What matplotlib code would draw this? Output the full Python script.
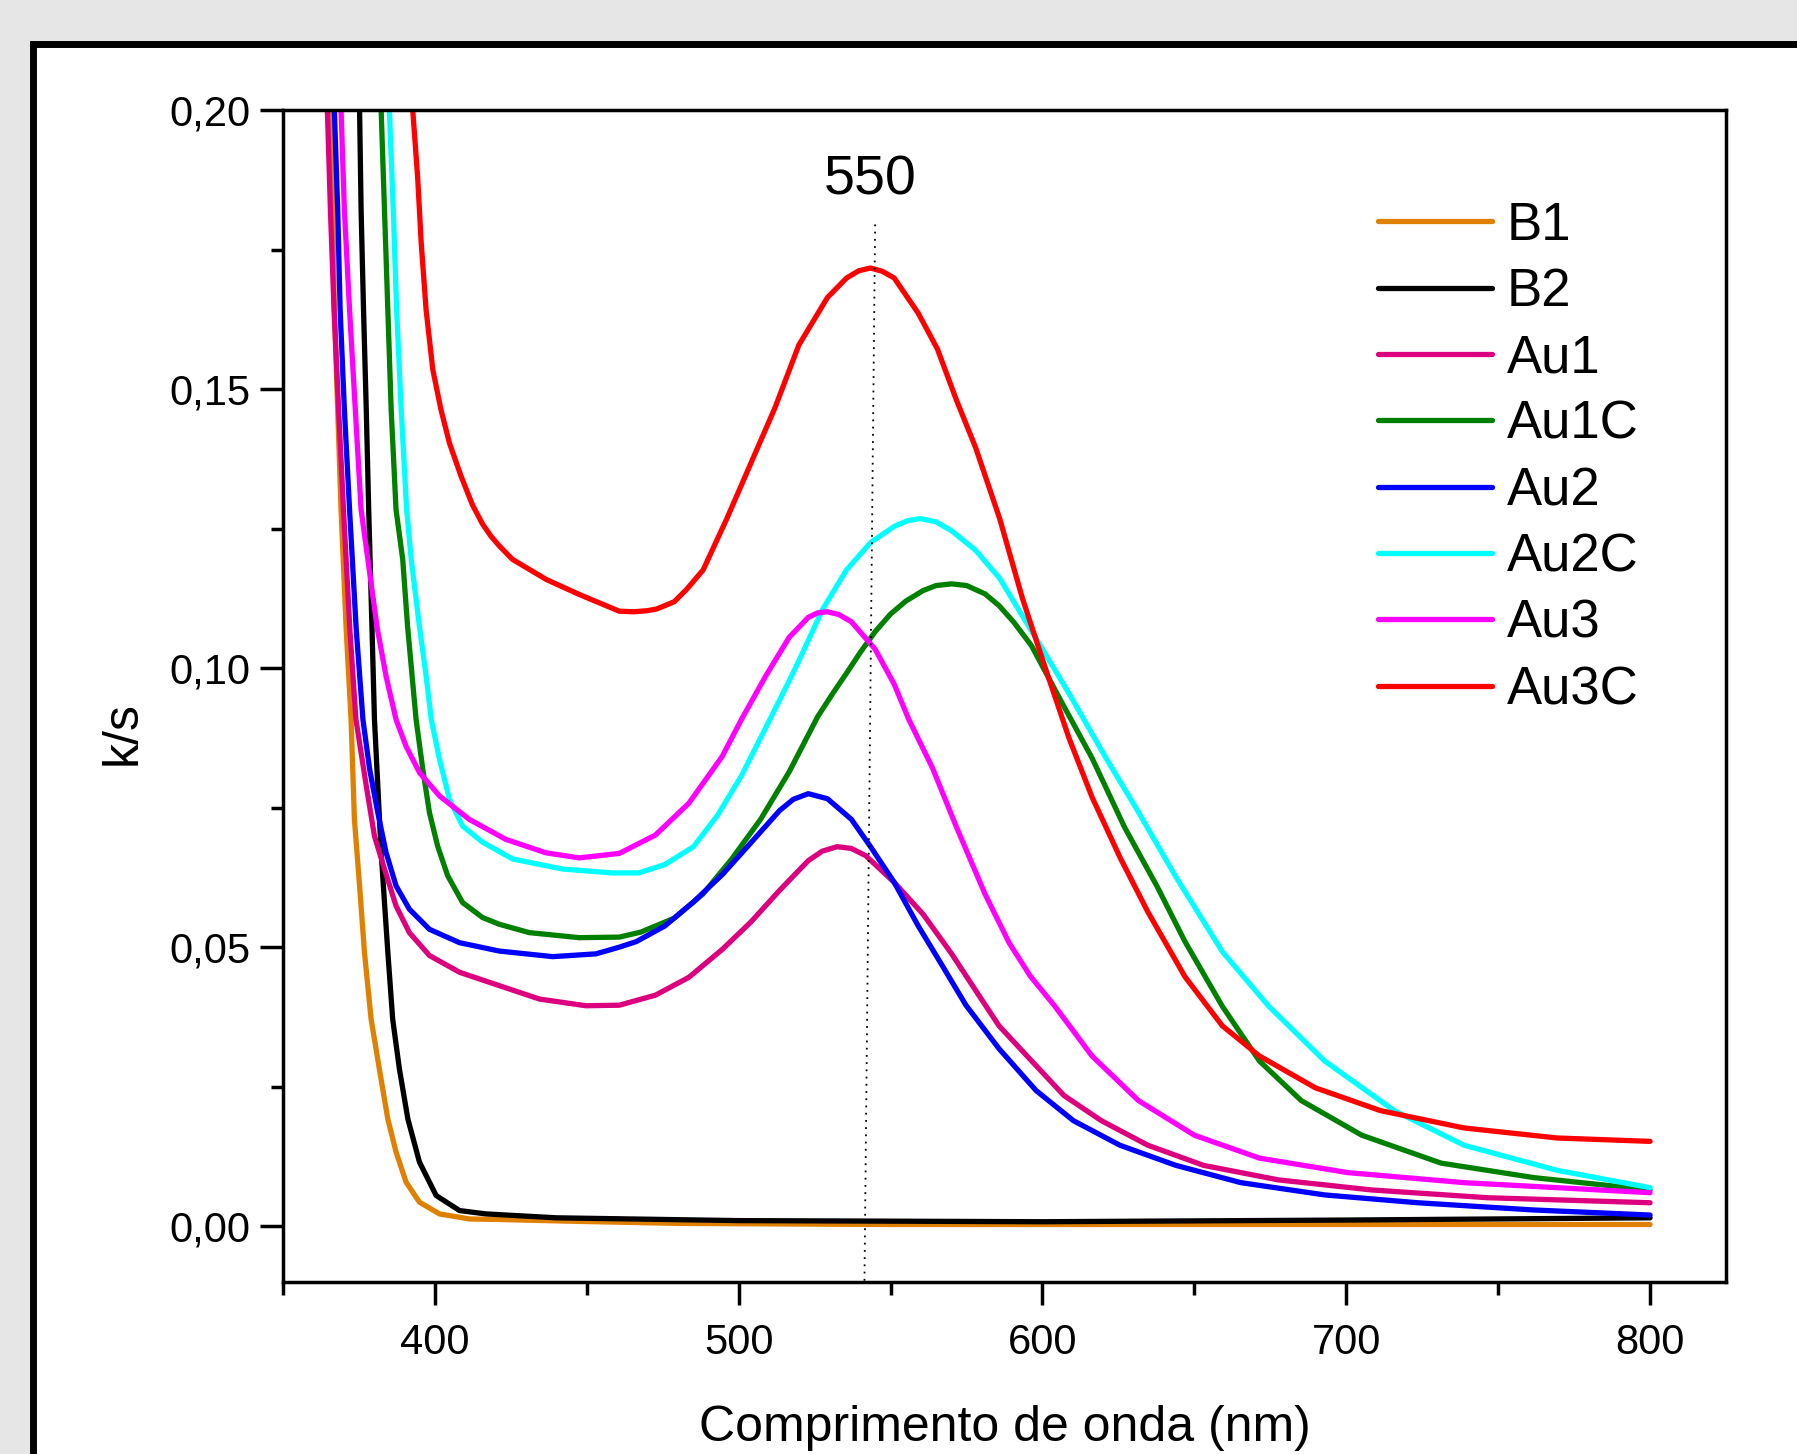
import matplotlib
matplotlib.use("Agg")
import matplotlib.pyplot as plt
from matplotlib.patches import Rectangle
from matplotlib.ticker import MultipleLocator, FuncFormatter

plt.rcParams["font.family"] = ["Liberation Sans", "DejaVu Sans"]

##### Spectra (wavelength in nm, k/s)
b1_wl = [365.9, 366.4, 366.9, 368.0, 369.1, 370.8, 372.4, 373.5, 375.2, 376.8, 379.0, 381.7,
         384.5, 387.2, 390.5, 394.9, 401.5, 411.3, 421.2, 444, 480, 550, 650, 800]
b1_ks = [0.200, 0.1821, 0.1642, 0.1463, 0.1284, 0.1069, 0.0908, 0.0729, 0.0610, 0.0491, 0.0371, 0.0282,
         0.0192, 0.0133, 0.0079, 0.0043, 0.0022, 0.0013, 0.0012, 0.0009, 0.0005, 0.0003, 0.0003, 0.0003]

b2_wl = [375.2, 375.7, 376.5, 377.4, 378.2, 379.3, 380.1, 381.2, 382.3, 383.4, 384.5, 386.1,
         388.3, 391.1, 394.9, 400.4, 408.1, 416.8, 440, 500, 600, 700, 750, 800]
b2_ks = [0.200, 0.1821, 0.1642, 0.1463, 0.1284, 0.1069, 0.0908, 0.0789, 0.0670, 0.0580, 0.0491, 0.0371,
         0.0282, 0.0192, 0.0115, 0.0055, 0.0028, 0.0022, 0.0015, 0.0010, 0.0008, 0.0011, 0.0013, 0.0015]

au1_wl = [364.6, 365.6, 366.8, 368.3, 369.9, 372.0, 374.0, 377.4, 380.1, 383.4, 387.2, 391.6,
          398.2, 408.1, 421.2, 434.4, 449.7, 460.7, 472.6, 483.6, 494.6, 504.0, 513.5, 522.9,
          527.5, 532.4, 537.0, 541.8, 551.2, 560.7, 570.1, 579.5, 585.7, 594.9, 607.1, 619.4,
          634.7, 653.0, 677.6, 708.2, 746.5, 800]
au1_ks = [0.200, 0.1821, 0.1642, 0.1463, 0.1284, 0.1069, 0.0908, 0.0789, 0.0699, 0.0640, 0.0574, 0.0526,
          0.0485, 0.0455, 0.0431, 0.0407, 0.0395, 0.0396, 0.0414, 0.0446, 0.0496, 0.0545, 0.0602, 0.0655,
          0.0672, 0.0680, 0.0677, 0.0664, 0.0616, 0.0559, 0.0488, 0.0410, 0.0359, 0.0305, 0.0234, 0.0189,
          0.0145, 0.0109, 0.0083, 0.0065, 0.0051, 0.0042]

au1c_wl = [382.3, 383.4, 384.5, 385.6, 387.2, 389.4, 391.0, 393.8, 396.0, 398.2, 400.9, 404.2,
           409.1, 415.7, 421.2, 431.1, 447.5, 460.7, 467.8, 478.8, 488.2, 497.7, 507.2, 516.6,
           526.0, 531.0, 535.5, 540.0, 545.0, 550.0, 555.0, 560.7, 565.0, 570.1, 575.0, 581.1,
           585.7, 590.6, 596.4, 605.6, 616.3, 627.0, 637.8, 646.9, 659.2, 671.4, 685.2, 705.1,
           731.2, 761.8, 800]
au1c_ks = [0.200, 0.1821, 0.1642, 0.1463, 0.1284, 0.1195, 0.1075, 0.0908, 0.0819, 0.0741, 0.0681, 0.0628,
           0.0580, 0.0553, 0.0541, 0.0526, 0.0517, 0.0518, 0.0527, 0.0552, 0.0595, 0.0658, 0.0729, 0.0814,
           0.0913, 0.0955, 0.0991, 0.1028, 0.1066, 0.1097, 0.1120, 0.1139, 0.1148, 0.1151, 0.1148, 0.1133,
           0.1112, 0.1082, 0.1040, 0.0946, 0.0839, 0.0715, 0.0608, 0.0510, 0.0394, 0.0296, 0.0225, 0.0163,
           0.0113, 0.0087, 0.0065]

au2_wl = [366.9, 368.0, 368.8, 370.2, 371.9, 374.1, 376.3, 378.5, 381.2, 383.9, 387.2, 391.6,
          398.2, 408.1, 421.2, 438.8, 453.0, 460.7, 466.3, 475.7, 485.1, 494.6, 504.0, 513.5,
          518.0, 522.9, 529.2, 537.1, 543.4, 551.2, 559.1, 567.0, 574.8, 585.7, 597.9, 610.2,
          625.5, 643.9, 665.3, 692.9, 723.5, 761.8, 800]
au2_ks = [0.200, 0.1821, 0.1642, 0.1463, 0.1284, 0.1069, 0.0908, 0.0819, 0.0741, 0.0670, 0.0610, 0.0568,
          0.0532, 0.0508, 0.0493, 0.0483, 0.0488, 0.0500, 0.0510, 0.0538, 0.0581, 0.0630, 0.0687, 0.0745,
          0.0765, 0.0775, 0.0766, 0.0729, 0.0680, 0.0616, 0.0538, 0.0467, 0.0396, 0.0318, 0.0243, 0.0189,
          0.0145, 0.0109, 0.0078, 0.0056, 0.0042, 0.0029, 0.0020]

au2c_wl = [385.0, 386.3, 387.4, 388.9, 390.7, 392.2, 394.9, 397.1, 398.8, 401.5, 404.8, 409.1,
           415.7, 425.6, 442.0, 458.5, 467.0, 475.7, 485.1, 493.0, 500.9, 508.8, 516.6, 519.8,
           527.6, 535.5, 543.4, 551.2, 555.5, 559.9, 565.0, 570.1, 578.0, 585.9, 597.9, 608.7,
           620.9, 631.6, 643.9, 659.2, 674.5, 692.9, 715.8, 738.8, 769.5, 800]
au2c_ks = [0.200, 0.1821, 0.1642, 0.1463, 0.1284, 0.1195, 0.1075, 0.0986, 0.0908, 0.0837, 0.0765, 0.0717,
           0.0688, 0.0658, 0.0640, 0.0633, 0.0633, 0.0648, 0.0680, 0.0736, 0.0807, 0.0892, 0.0977, 0.1013,
           0.1105, 0.1176, 0.1225, 0.1254, 0.1264, 0.1268, 0.1262, 0.1246, 0.1211, 0.1161, 0.1053, 0.0955,
           0.0839, 0.0742, 0.0626, 0.0492, 0.0394, 0.0296, 0.0207, 0.0145, 0.0100, 0.0069]

au3_wl = [369.1, 370.2, 371.9, 373.8, 375.7, 381.0, 383.9, 387.2, 390.5, 394.9, 401.5, 411.3,
          423.4, 436.6, 447.5, 460.7, 472.6, 483.6, 494.6, 500.9, 508.8, 516.6, 522.9, 526.0,
          529.2, 533.0, 537.1, 544.9, 551.2, 556.0, 563.8, 571.7, 581.1, 589.0, 596.0, 604.1,
          616.3, 631.6, 650.0, 671.4, 700.5, 738.8, 769.5, 800]
au3_ks = [0.200, 0.1821, 0.1642, 0.1463, 0.1284, 0.1072, 0.0986, 0.0908, 0.0860, 0.0813, 0.0771, 0.0729,
          0.0693, 0.0669, 0.0660, 0.0668, 0.0701, 0.0758, 0.0842, 0.0908, 0.0985, 0.1055, 0.1091, 0.1099,
          0.1101, 0.1096, 0.1083, 0.1034, 0.0971, 0.0908, 0.0821, 0.0715, 0.0595, 0.0508, 0.0448, 0.0394,
          0.0305, 0.0225, 0.0163, 0.0122, 0.0096, 0.0078, 0.0069, 0.0060]

au3c_wl = [392.7, 394.3, 395.5, 397.1, 399.3, 402.0, 404.8, 408.6, 412.4, 415.7, 418.5, 421.2,
           425.5, 436.6, 447.5, 460.7, 465.5, 470.0, 473.0, 478.8, 483.0, 488.3, 496.1, 504.0,
           511.9, 519.8, 529.2, 535.5, 539.5, 543.4, 547.3, 551.2, 559.1, 565.4, 571.7, 578.0,
           585.9, 593.4, 601.0, 608.7, 616.3, 625.5, 634.7, 646.9, 659.2, 671.4, 689.8, 711.3,
           738.8, 769.5, 800]
au3c_ks = [0.200, 0.1881, 0.1761, 0.1642, 0.1535, 0.1463, 0.1403, 0.1344, 0.1292, 0.1258, 0.1236, 0.1219,
           0.1195, 0.1159, 0.1132, 0.1102, 0.1101, 0.1103, 0.1106, 0.1119, 0.1142, 0.1176, 0.1268, 0.1367,
           0.1466, 0.1579, 0.1664, 0.1699, 0.1712, 0.1717, 0.1711, 0.1699, 0.1636, 0.1572, 0.1480, 0.1395,
           0.1268, 0.1125, 0.0999, 0.0875, 0.0769, 0.0661, 0.0563, 0.0447, 0.0359, 0.0305, 0.0248, 0.0207,
           0.0176, 0.0158, 0.0152]

series = [
    ("B1", b1_wl, b1_ks, "#E08000"),
    ("B2", b2_wl, b2_ks, "#000000"),
    ("Au1", au1_wl, au1_ks, "#DC007F"),
    ("Au1C", au1c_wl, au1c_ks, "#008000"),
    ("Au2", au2_wl, au2_ks, "#0000FF"),
    ("Au2C", au2c_wl, au2c_ks, "#00FFFF"),
    ("Au3", au3_wl, au3_ks, "#FF00FF"),
    ("Au3C", au3c_wl, au3c_ks, "#FF0000"),
]

### Plasmon band marker
marker_wl = [544.9, 541.4]
marker_ks = [0.1795, -0.0098]
marker_label = "550"
marker_label_pos = (543.4, 0.1873)


##### Figure
fig = plt.figure(figsize=(17.97, 14.54), dpi=100, facecolor="#e6e6e6")

# white sheet with heavy black border
sheet = Rectangle((0.0181, -0.2), 1.2, 1.17, transform=fig.transFigure,
                  facecolor="white", edgecolor="black", linewidth=5, zorder=-10)
fig.patches.append(sheet)

ax = fig.add_axes([0.1575, 0.1183, 0.8030, 0.8060])
ax.set_facecolor("white")

for name, wl, ks, color in series:
    ax.plot(wl, ks, color=color, lw=3.8, label=name,
            solid_capstyle="round", solid_joinstyle="round")

ax.plot(marker_wl, marker_ks, color="black", lw=1.3, linestyle=(0, (1, 3)))
ax.text(marker_label_pos[0], marker_label_pos[1], marker_label, fontsize=40,
        ha="center", va="center")

ax.set_xlim(350, 825)
ax.set_ylim(-0.01, 0.20)

ax.xaxis.set_major_locator(MultipleLocator(100))
ax.xaxis.set_minor_locator(MultipleLocator(50))
ax.yaxis.set_major_locator(MultipleLocator(0.05))
ax.yaxis.set_minor_locator(MultipleLocator(0.025))
ax.yaxis.set_major_formatter(FuncFormatter(lambda v, p: f"{v:.2f}".replace(".", ",")))

ax.tick_params(which="both", direction="out", width=2.5, top=False, right=False)
ax.tick_params(which="major", length=16.5, labelsize=30)
ax.tick_params(which="minor", length=9)
ax.tick_params(axis="x", which="major", pad=13)
ax.tick_params(axis="y", which="major", pad=7)

for side in ax.spines.values():
    side.set_linewidth(2.5)

ax.set_xlabel("Comprimento de onda (nm)", fontsize=36, labelpad=30)
ax.set_ylabel("k/s", fontsize=36)
ax.yaxis.set_label_coords(-0.095, 0.468)

ax.legend(loc="center left", bbox_to_anchor=(1377.5 / 1797, 1 - 458 / 1454),
          bbox_transform=fig.transFigure, frameon=False, fontsize=38,
          handlelength=2.17, handletextpad=0.28, labelspacing=0.31,
          borderpad=0, borderaxespad=0)

fig.savefig("out.png", dpi=100, facecolor=fig.get_facecolor())
